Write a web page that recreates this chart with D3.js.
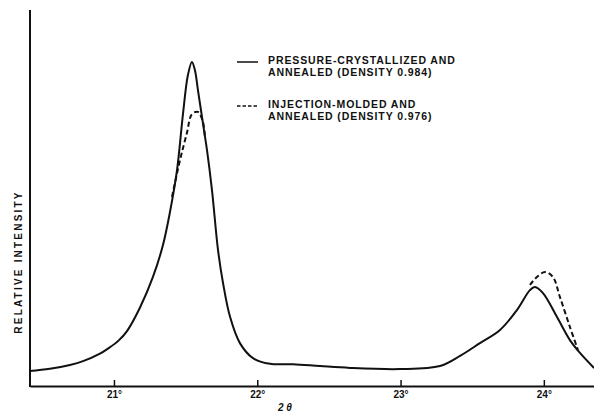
<!DOCTYPE html>
<html>
<head>
<meta charset="utf-8">
<script src="https://cdn.jsdelivr.net/npm/d3@7"></script>
<style>
    body { margin: 0; background: #fff; }
    svg { display: block; }
    text { font-family: "Liberation Sans", Arial, sans-serif; font-weight: bold; fill: #111; }
</style>
</head>
<body>
<div id="chart"></div>
<script>
// two-theta in degrees, relative intensity (arbitrary units, 0 at baseline)
const pressureX = [20.41, 20.553, 20.693, 20.784, 20.902, 20.96, 21.03, 21.091, 21.181, 21.272, 21.342,
    21.391, 21.44, 21.481, 21.516, 21.544, 21.565, 21.586, 21.607, 21.628, 21.649,
    21.684, 21.726, 21.761, 21.81, 21.879, 21.97, 22.089, 22.25, 22.438, 22.647,
    22.996, 23.275, 23.415, 23.554, 23.694, 23.812, 23.903, 23.938, 23.994, 24.091,
    24.182, 24.252, 24.35];
const pressureY = [4.0, 4.6, 5.6, 6.6, 8.6, 10.0, 12.0, 14.6, 20.8, 29.0, 37.5,
    46.3, 57.4, 72.1, 82.7, 86.2, 84.0, 78.7, 73.4, 68.1, 62.8,
    52.1, 36.2, 27.4, 18.4, 11.4, 7.4, 5.9, 5.8, 5.3, 4.8,
    4.5, 5.3, 8.0, 11.4, 14.9, 20.2, 25.5, 26.3, 24.7, 18.4,
    12.2, 8.8, 4.8];

// dashed curve only where it departs from the solid one (null = gap)
const injectionX = [21.405, 21.461, 21.509, 21.544, 21.586, 21.621, 21.635, null,
    23.903, 23.952, 24.008, 24.063, 24.112, 24.182, 24.238];
const injectionY = [50.3, 60.1, 67.3, 72.3, 72.9, 70.2, 66.2, null,
    26.9, 29.0, 30.3, 29.0, 23.7, 15.7, 9.6];

const tickValues = [21, 22, 23, 24];
const tickLabels = ['21°', '22°', '23°', '24°'];

const legendLines = [
    ['PRESSURE-CRYSTALLIZED AND', 'ANNEALED (DENSITY 0.984)'],
    ['INJECTION-MOLDED AND', 'ANNEALED (DENSITY 0.976)']
];

const width = 594, height = 413;
const margin = { top: 10, right: 0, bottom: 27, left: 30 };

const svg = d3.select('#chart').append('svg')
    .attr('width', width)
    .attr('height', height);

const x = d3.scaleLinear()
    .domain([20.414, 24.35])
    .range([margin.left, width - margin.right]);

const y = d3.scaleLinear()
    .domain([0, 100])
    .range([height - margin.bottom, margin.top]);

// axes
const xAxis = d3.axisBottom(x)
    .tickValues(tickValues)
    .tickFormat((d, i) => tickLabels[i])
    .tickSizeInner(-6)
    .tickSizeOuter(0)
    .tickPadding(5);

const gx = svg.append('g')
    .attr('transform', `translate(0,${height - margin.bottom})`)
    .call(xAxis);
gx.select('.domain').attr('stroke', '#111').attr('stroke-width', 2);
gx.selectAll('.tick line').attr('stroke', '#111').attr('stroke-width', 1.5);
gx.selectAll('.tick text')
    .attr('font-size', 10)
    .attr('font-family', '"Liberation Sans", Arial, sans-serif')
    .attr('font-weight', 'bold')
    .attr('fill', '#111');

svg.append('line')
    .attr('x1', x(20.414)).attr('x2', x(20.414))
    .attr('y1', margin.top).attr('y2', height - margin.bottom + 1)
    .attr('stroke', '#111')
    .attr('stroke-width', 2);

svg.append('text')
    .attr('x', 285)
    .attr('y', 411)
    .attr('text-anchor', 'middle')
    .attr('font-size', 10)
    .attr('font-style', 'italic')
    .text('2 θ');

svg.append('text')
    .attr('transform', 'translate(22,262) rotate(-90)')
    .attr('text-anchor', 'middle')
    .attr('font-size', 10)
    .attr('letter-spacing', 2.2)
    .attr('font-weight', 'normal')
    .text('RELATIVE  INTENSITY');

// curves
const pressureData = pressureX.map((d, i) => ({ x: d, y: pressureY[i] }));
const injectionData = injectionX.map((d, i) => ({ x: d, y: injectionY[i] }));

const line = d3.line()
    .defined(d => d.x !== null)
    .x(d => x(d.x))
    .y(d => y(d.y))
    .curve(d3.curveCatmullRom.alpha(0.5));

svg.append('path')
    .datum(injectionData)
    .attr('d', line)
    .attr('fill', 'none')
    .attr('stroke', '#111')
    .attr('stroke-width', 2)
    .attr('stroke-dasharray', '5,3');

svg.append('path')
    .datum(pressureData)
    .attr('d', line)
    .attr('fill', 'none')
    .attr('stroke', '#111')
    .attr('stroke-width', 2);

// legend
const legend = svg.append('g');
const legendY = [62, 106];
legendLines.forEach((lines, i) => {
    legend.append('line')
        .attr('x1', 237).attr('x2', 258)
        .attr('y1', legendY[i]).attr('y2', legendY[i])
        .attr('stroke', '#111')
        .attr('stroke-width', 1.5)
        .attr('stroke-dasharray', i === 1 ? '3.5,2' : null);
    lines.forEach((t, j) => {
        legend.append('text')
            .attr('x', 268)
            .attr('y', legendY[i] + 2 + j * 12)
            .attr('font-size', 10.5)
            .attr('letter-spacing', 0.9)
            .text(t);
    });
});
</script>
</body>
</html>
